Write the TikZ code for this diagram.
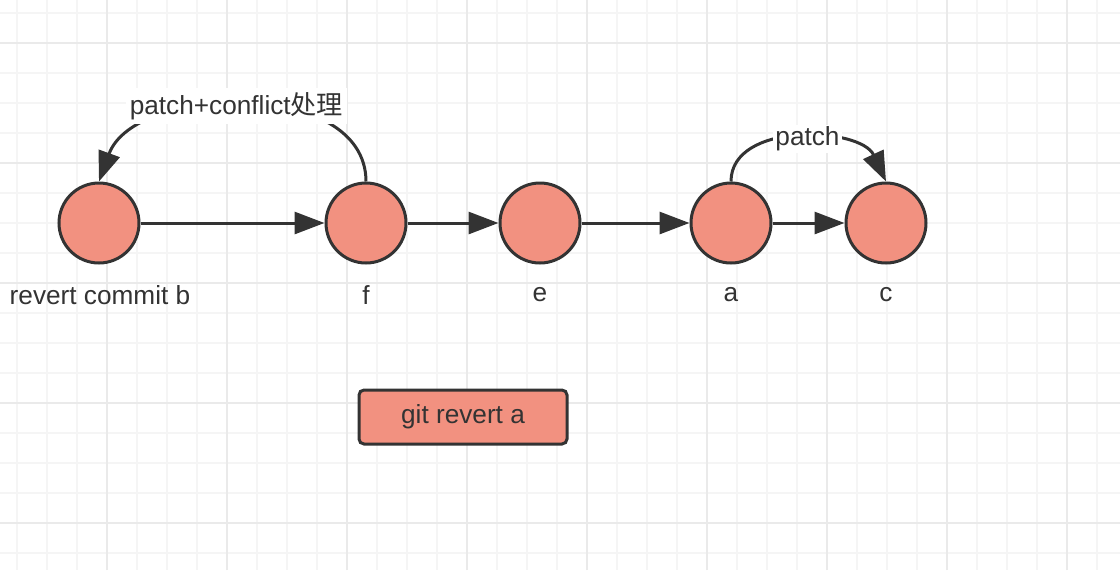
\documentclass[tikz,border=0pt]{standalone}
\usepackage{fontspec}
\setmainfont{Liberation Sans}
\newfontfamily\cjkfont{Noto Sans CJK SC}
\usetikzlibrary{arrows.meta}
\definecolor{commitfill}{RGB}{242,145,128}
\definecolor{inkgray}{RGB}{51,51,51}
\definecolor{gridminor}{RGB}{245,245,245}
\definecolor{gridmajor}{RGB}{234,234,234}
\tikzset{>={Triangle[length=15pt,width=11pt]}}
\tikzset{
  commit/.style={circle, draw=inkgray, fill=commitfill, line width=1.5pt, minimum size=40pt, inner sep=0pt},
  cmdbox/.style={rectangle, rounded corners=2.5pt, draw=inkgray, fill=commitfill, line width=1.5pt, minimum width=104pt, minimum height=27pt},
  flow/.style={->, line width=1.5pt, draw=inkgray},
  txt/.style={text=inkgray, font=\fontsize{13.1}{15}\selectfont, inner sep=1pt}
}

\begin{document}
\begin{tikzpicture}[x=0.5pt, y=0.5pt]
        \useasboundingbox (0,0) rectangle (1120,570);
        \fill[white] (0,0) rectangle (1120,570);
        % grid
        \foreach \gx in {17,47,...,1097}
            \draw[gridminor, line width=0.8pt] (\gx,0) -- (\gx,570);
        \foreach \gy in {17,47,...,557}
            \draw[gridminor, line width=0.8pt] (0,\gy) -- (1120,\gy);
        \foreach \gx in {107,227,...,1067}
            \draw[gridmajor, line width=0.8pt] (\gx,0) -- (\gx,570);
        \foreach \gy in {47,167,...,527}
            \draw[gridmajor, line width=0.8pt] (0,\gy) -- (1120,\gy);

        % commits
        \node[commit] (b) at (99,347) {};
        \node[commit] (f) at (366,347) {};
        \node[commit] (e) at (540,347) {};
        \node[commit] (a) at (731,347) {};
        \node[commit] (c) at (886,347) {};
        \node[txt] (lb) at (100,275) {revert commit b};
        \node[txt] (lf) at (366,275) {f};
        \node[txt] (le) at (540,275) {e};
        \node[txt] (la) at (731,275) {a};
        \node[txt] (lc) at (886,275) {c};

        \draw[flow] (b) -- (f);
        \draw[flow] (f) -- (e);
        \draw[flow] (e) -- (a);
        \draw[flow] (a) -- (c);

        \draw[flow] (f.north) to[out=90, in=70]
            node[txt, fill=white, inner sep=2pt, pos=0.525] (pc) {patch+conflict{\cjkfont 处理}} (b.north);
        \draw[flow] (a.north) to[out=90, in=115]
            node[txt, fill=white, inner sep=1pt, pos=0.54] (pa) {patch} (c.north);

        \node[cmdbox, txt] (cmd) at (463,153) {git revert a};
\end{tikzpicture}
\end{document}
